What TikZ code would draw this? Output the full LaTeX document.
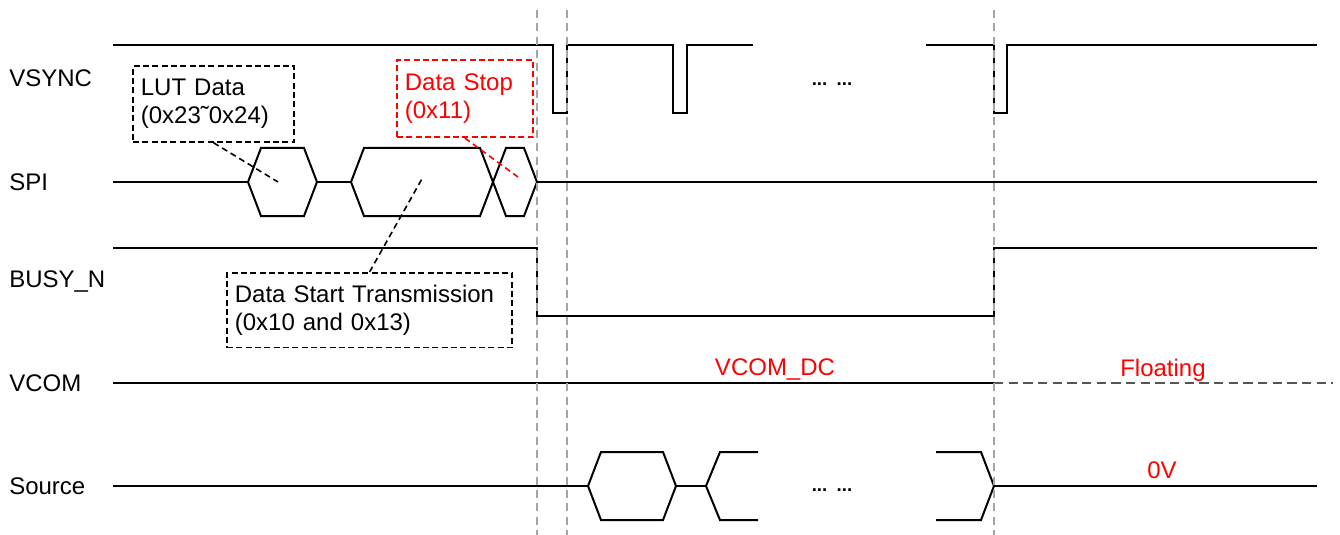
\documentclass[tikz,border=0pt]{standalone}
\usepackage{fontspec}
\setmainfont{Liberation Sans}
\usepackage{xcolor}
\usepackage{tikz}
\usetikzlibrary{positioning,calc}
\definecolor{TIMred}{RGB}{255,0,0}
\definecolor{TIMgrey}{RGB}{165,165,165}
\definecolor{TIMdark}{RGB}{85,85,85}
\newcommand{\timfont}{\fontsize{18}{21}\selectfont}
\tikzstyle{sig}   = [line width=1.5pt, black]
\tikzstyle{guide} = [TIMgrey, line width=1.4pt, dash pattern=on 6pt off 4pt]
\tikzstyle{float} = [TIMdark, line width=1.4pt, dash pattern=on 7pt off 4pt]
\tikzstyle{lbl}   = [anchor=west, inner sep=0pt, font=\timfont]
\tikzstyle{note}  = [draw, line width=1.3pt, dash pattern=on 4.5pt off 2.5pt,
                     anchor=north west, align=left, inner xsep=6pt,
                     font=\timfont]
\tikzstyle{Nblk}  = [note, black]
\tikzstyle{Nred}  = [note, draw=TIMred, text=TIMred]
\tikzstyle{lead}  = [line width=1.2pt, dash pattern=on 4.5pt off 3pt]
\tikzstyle{rtxt}  = [text=TIMred, inner sep=0pt, font=\timfont]
\tikzstyle{dots}  = [inner sep=0pt, font=\fontsize{14}{16}\selectfont\bfseries]
% hexagon of a bus: left point, right point, middle y
\newcommand{\bushex}[3]{%
  \draw[sig] (#1,#3) -- (#1+13,#3-34) -- (#2-13,#3-34) -- (#2,#3)
             -- (#2-13,#3+34) -- (#1+13,#3+34) -- cycle;}

\begin{document}
\begin{tikzpicture}[x=0.75pt, y=-0.75pt]
  \useasboundingbox (0,0) rectangle (1340,535);

  \node[lbl] (vsync)  at (9,78)  {VSYNC};
  \node[lbl] (spi)    at (9,182) {SPI};
  \node[lbl] (busy)   at (9,282) {BUSY\_N};
  \node[lbl] (vcom)   at (9,383) {VCOM};
  \node[lbl] (source) at (9,486) {Source};

  % VSYNC
  \draw[sig] (113,45) -- (553,45) -- (553,113) -- (567,113) -- (567,45) -- (673,45)
             -- (673,113) -- (687,113) -- (687,45) -- (753,45);
  \draw[sig] (926,45) -- (994,45) -- (994,113) -- (1007,113) -- (1007,45) -- (1317,45);
  \node[dots] (vdots) at (832,84) {...\enspace...};

  % SPI
  \draw[sig] (113,182) -- (248,182);
  \bushex{248}{317}{182}
  \draw[sig] (317,182) -- (351,182);
  \bushex{351}{493}{182}
  \bushex{493}{537}{182}
  \draw[sig] (537,182) -- (1317,182);
  \coordinate (lutc)  at (278,182);
  \coordinate (dstc)  at (423,177);
  \coordinate (stopc) at (518,177);

  % BUSY_N
  \draw[sig] (113,248) -- (537,248) -- (537,316) -- (994,316) -- (994,248) -- (1317,248);

  % VCOM
  \draw[sig] (113,383) -- (994,383);
  \draw[float] (994,383) -- (1333,383);
  \node[rtxt] (vcdc)  at (775,370) {VCOM\_DC};
  \node[rtxt] (flt)   at (1163,370) {Floating};

  % Source
  \draw[sig] (113,486) -- (588,486);
  \bushex{588}{676}{486}
  \draw[sig] (676,486) -- (706,486);
  \draw[sig] (758,452) -- (720,452) -- (706,486) -- (720,520) -- (758,520);
  \draw[sig] (936,452) -- (981,452) -- (994,486) -- (981,520) -- (936,520);
  \draw[sig] (994,486) -- (1317,486);
  \node[dots] (sdots) at (832,490) {...\enspace...};
  \node[rtxt] (zero)  at (1162,470) {0V};

  % notes
  \node[Nblk, text width=109pt, minimum height=57pt] (lut)  at (132,65)
       {LUT Data\\(0x23˜0x24)};
  \node[Nred, text width=90pt, minimum height=58pt] (stop) at (396,59)
       {Data Stop\\(0x11)};
  \node[Nblk, text width=202pt, minimum height=56pt] (dst)  at (226,272)
       {Data Start Transmission\\(0x10 and 0x13)};
  \draw[lead] (lut.south) -- (lutc);
  \draw[lead, TIMred] (stop.south) -- (stopc);
  \draw[lead] (dst.north) -- (dstc);

  % guides
  \foreach \gx in {537,567,994}
    \draw[guide] (\gx,10) -- (\gx,535);
\end{tikzpicture}
\end{document}
